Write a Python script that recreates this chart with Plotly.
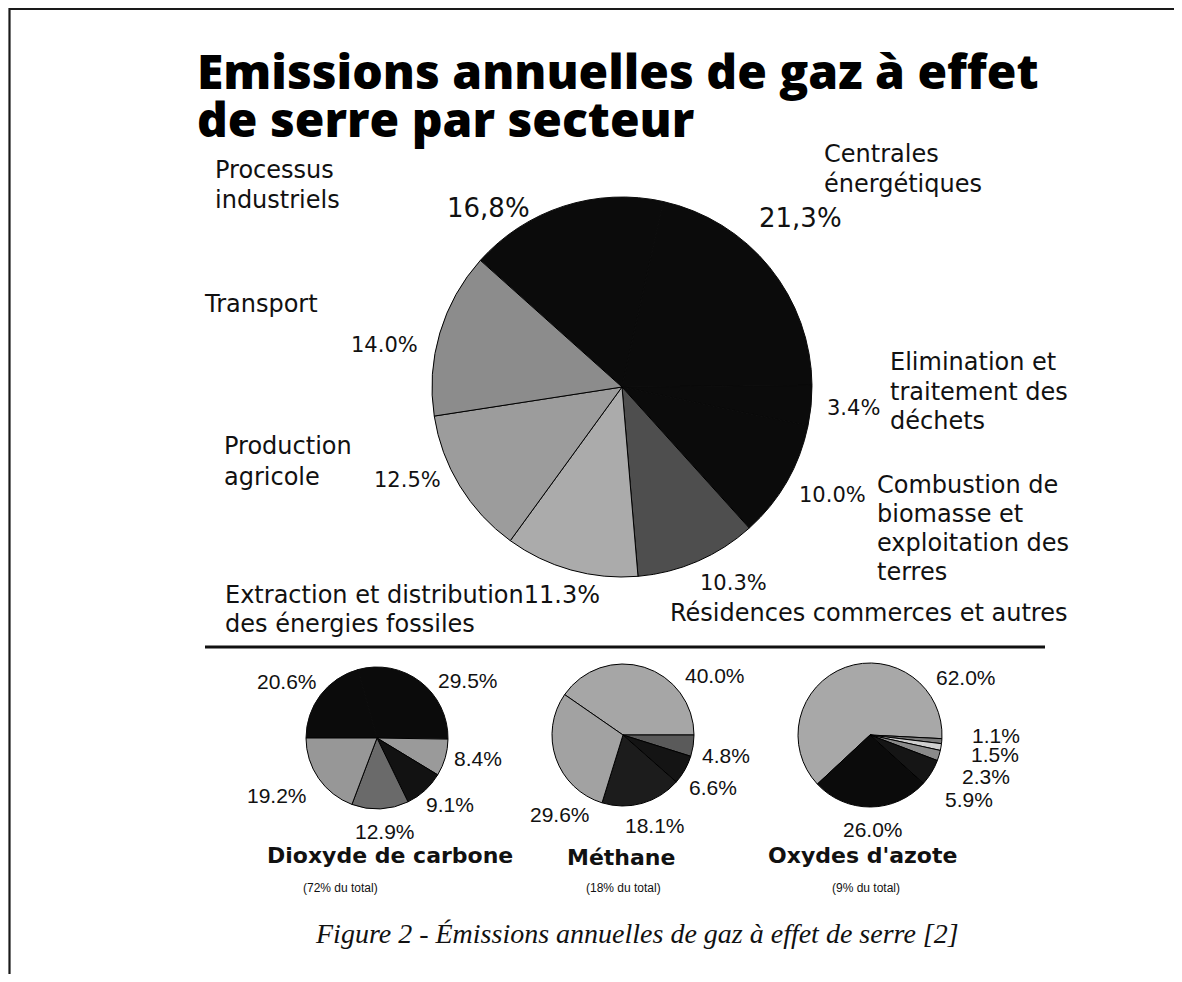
import plotly.graph_objects as go

W, H = 1182, 982          # reference picture size
OX, OY = 8, 8             # page body margin
FW, FH = W - 2 * OX, H - 2 * OY

# ---------------- data ----------------
title_lines = ["Emissions annuelles de gaz à effet", "de serre par secteur"]

sector_labels = [
    "Processus<br>industriels",
    "Centrales<br>énergétiques",
    "Elimination et<br>traitement des<br>déchets",
    "Combustion de<br>biomasse et<br>exploitation des<br>terres",
    "Résidences commerces et autres",
    "Extraction et distribution",
    "Production<br>agricole",
    "Transport",
]
sector_values = [16.8, 21.3, 3.4, 10.0, 10.3, 11.3, 12.5, 14.0]
sector_pct_text = ["16,8%", "21,3%", "3.4%", "10.0%", "10.3%", "11.3%", "12.5%", "14.0%"]
extraction_line2 = "des énergies fossiles"

gas_names = ["Dioxyde de carbone", "Méthane", "Oxydes d'azote"]
gas_shares = ["(72% du total)", "(18% du total)", "(9% du total)"]
co2_values = [20.6, 29.5, 8.4, 9.1, 12.9, 19.2]
ch4_values = [40.0, 4.8, 6.6, 18.1, 29.6]
nox_values = [62.0, 1.1, 1.5, 2.3, 5.9, 26.0]

caption = "Figure 2 - Émissions annuelles de gaz à effet de serre [2]"

# ---------------- styles ----------------
BLK = "#0b0b0b"
sector_colors = [BLK, BLK, BLK, BLK, "#4e4e4e", "#ababab", "#9c9c9c", "#8c8c8c"]
sector_lines = [BLK, BLK, BLK, BLK, "#000000", "#000000", "#000000", "#000000"]
co2_colors = [BLK, BLK, "#9a9a9a", "#121212", "#6a6a6a", "#979797"]
co2_lines = [BLK, BLK, "#000000", "#000000", "#000000", "#000000"]
ch4_colors = ["#a6a6a6", "#5a5a5a", "#141414", "#1c1c1c", "#a2a2a2"]
nox_colors = ["#a8a8a8", "#7a7a7a", "#cfcfcf", "#8a8a8a", "#151515", BLK]


def px(x):
    return (x - OX) / FW


def py(y):
    return 1 - (y - OY) / FH


def dom(cx, cy, r):
    return dict(x=[px(cx - r), px(cx + r)], y=[py(cy + r), py(cy - r)])


def pie(values, colors, cx, cy, r, rotation, lines="#000000"):
    return go.Pie(
        values=values, sort=False, direction="clockwise", rotation=rotation,
        marker=dict(colors=colors, line=dict(color=lines, width=1)),
        textinfo="none", hoverinfo="skip", showlegend=False,
        domain=dom(cx, cy, r),
    )


fig = go.Figure()
fig.add_trace(pie(sector_values, sector_colors, 622, 387, 190, -48.2, sector_lines))
fig.add_trace(pie(co2_values, co2_colors, 377, 738, 71, -90, co2_lines))
fig.add_trace(pie(ch4_values, ch4_colors, 623, 735, 71, -55.3))
fig.add_trace(pie(nox_values, nox_colors, 870, 735, 72, -133))

ann = []


def A(x, y, text, size, family="DejaVu Sans", xanchor="left", yanchor="middle", color="#111111",
      align="left", weight="normal"):
    ann.append(dict(x=px(x), y=py(y), xref="paper", yref="paper", text=text, showarrow=False,
                    font=dict(size=size, family=family, color=color, weight=weight),
                    xanchor=xanchor, yanchor=yanchor, align=align))


# title
A(195, 71, title_lines[0], 48, family="Open Sans", color="#000000", weight=800)
A(195, 118, title_lines[1], 48, family="Open Sans", color="#000000", weight=800)


def multiline(x, y0, text, size=24, step=29.5):
    for i, t in enumerate(text.split("<br>")):
        A(x, y0 + i * step, t, size)


multiline(213, 170, sector_labels[0], step=30)
multiline(822, 154, sector_labels[1], step=30)
multiline(888, 362, sector_labels[2], step=29.5)
multiline(875, 484.5, sector_labels[3], step=29.3)
A(668, 612.5, sector_labels[4], 24)
A(223, 595, sector_labels[5] + sector_pct_text[5], 24)
A(223, 624, extraction_line2, 24)
multiline(222, 446.5, sector_labels[6], step=30)
A(202, 304, sector_labels[7], 24)

# main pie percentages (centres)
A(488, 207.5, sector_pct_text[0], 26, xanchor="center")
A(800, 217.5, sector_pct_text[1], 26, xanchor="center")
A(853, 408, sector_pct_text[2], 21, xanchor="center")
A(832, 495, sector_pct_text[3], 21, xanchor="center")
A(733, 582.5, sector_pct_text[4], 21, xanchor="center")
A(407, 480.5, sector_pct_text[6], 21, xanchor="center")
A(385, 345, sector_pct_text[7], 21, xanchor="center")

shapes = [
    # separator between the sector pie and the gas pies
    dict(type="line", xref="paper", yref="paper", x0=px(205), x1=px(1045), y0=py(647), y1=py(647),
         line=dict(color="#111111", width=3)),
    # page frame: only its left and top edges fall inside the picture
    dict(type="rect", xref="paper", yref="paper", x0=px(9.5), x1=px(1200), y0=py(1000), y1=py(9),
         line=dict(color="#1a1a1a", width=2.2), fillcolor="rgba(0,0,0,0)"),
]

# small pie percentages
pf = "Liberation Sans"
co2_pos = [(287, 681.5), (468, 680), (478, 758), (450, 804), (385, 831), (277, 795)]
ch4_pos = [(715, 675), (726, 755.5), (713, 787.5), (655, 825), (560, 814.5)]
nox_pos = [(966, 677.5), (996, 735.5), (995, 754), (986, 776), (969, 799.5), (873, 829.5)]
for vals, pos in ((co2_values, co2_pos), (ch4_values, ch4_pos), (nox_values, nox_pos)):
    for v, (x, y) in zip(vals, pos):
        A(x, y, f"{v:.1f}%", 21, family=pf, xanchor="center")

gas_title_pos = [(390, 855.5), (621, 857), (862, 855.5)]
gas_share_pos = [(340, 888), (623, 888), (866, 888)]
for name, (x, y) in zip(gas_names, gas_title_pos):
    A(x, y, "<b>" + name + "</b>", 22, xanchor="center")
for s, (x, y) in zip(gas_shares, gas_share_pos):
    A(x, y, s, 12, family="Liberation Sans Narrow, Liberation Sans", xanchor="center")

# caption
A(637, 933, "<i>" + caption + "</i>", 28, family="Liberation Serif", xanchor="center")

fig.update_layout(
    width=FW, height=FH, margin=dict(l=0, r=0, t=0, b=0),
    paper_bgcolor="#ffffff", plot_bgcolor="#ffffff",
    annotations=ann, shapes=shapes,
)

fig.write_html("out.html")
